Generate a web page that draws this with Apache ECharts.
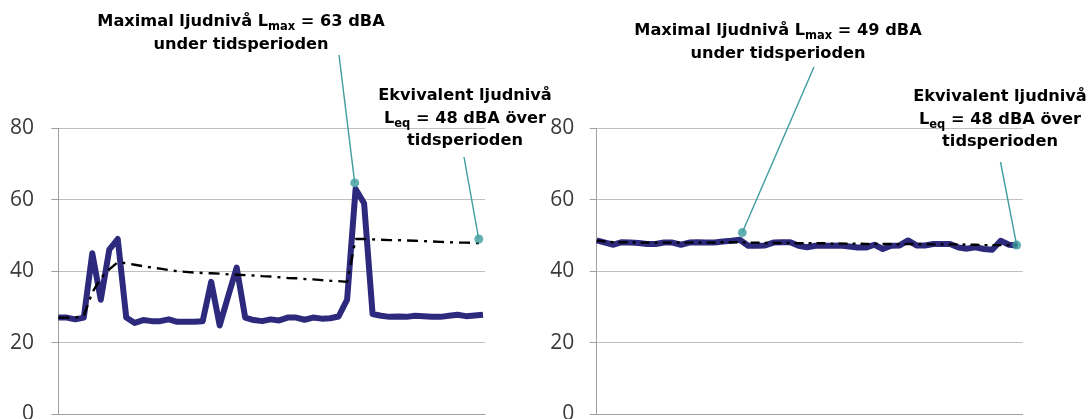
<!DOCTYPE html>
<html>
<head>
<meta charset="utf-8">
<script src="https://cdn.jsdelivr.net/npm/echarts@6/dist/echarts.min.js"></script>
<style>
html,body{margin:0;padding:0;background:#fff;}
#chart{width:1091px;height:419px;}
</style>
</head>
<body>
<div id="chart"></div>
<script>
// Y-axis ticks (dBA)
const yTicks = [0, 20, 40, 60, 80];

// Left panel: measured sound level per sample and running equivalent level
const leftLevel = [27, 27, 26.5, 27, 45, 32, 46, 49, 27, 25.5, 26.3, 26, 26, 26.5, 25.8, 25.8, 25.8, 26, 37, 24.8, 33, 41, 27, 26.3, 26, 26.5, 26.2, 27, 27, 26.4, 27, 26.7, 26.8, 27.3, 32, 63, 59, 28, 27.5, 27.2, 27.3, 27.2, 27.5, 27.4, 27.2, 27.2, 27.5, 27.8, 27.4, 27.6, 27.8];
const leftLeq = [27, 27, 27, 27.5, 34, 38, 40.5, 42.5, 42.2, 41.8, 41.4, 41, 40.7, 40.3, 40, 39.8, 39.6, 39.5, 39.4, 39.3, 39.1, 39, 38.9, 38.8, 38.6, 38.5, 38.3, 38.1, 38, 37.8, 37.7, 37.5, 37.3, 37.2, 37, 49, 49, 48.9, 48.8, 48.7, 48.7, 48.6, 48.5, 48.4, 48.3, 48.2, 48.1, 48, 48, 47.9, 47.8];

// Right panel
const rightLevel = [48.6, 48, 47.4, 48.1, 48, 47.9, 47.6, 47.6, 48, 48, 47.4, 48, 48.1, 48, 48, 48.3, 48.5, 48.8, 47.1, 47.1, 47.2, 48, 48.1, 48.1, 47.1, 46.7, 47.1, 47.1, 47.1, 47.2, 46.9, 46.6, 46.6, 47.4, 46.2, 47.1, 47.2, 48.6, 47.2, 47.2, 47.6, 47.6, 47.6, 46.6, 46.3, 46.7, 46.2, 46, 48.5, 47.4, 47.2];
const rightLeq = [48.6, 48.3, 48.1, 48.1, 48.1, 48, 48, 48, 48, 48, 48, 48, 48, 48, 48, 48.1, 48.1, 48.1, 48, 48, 47.9, 47.9, 47.9, 47.9, 47.8, 47.8, 47.8, 47.8, 47.7, 47.7, 47.7, 47.7, 47.6, 47.6, 47.6, 47.6, 47.5, 47.6, 47.6, 47.5, 47.5, 47.5, 47.5, 47.5, 47.4, 47.4, 47.3, 47.3, 47.3, 47.3, 47.3];

// Annotation anchor points [sample index, dBA]
const leftMaxPoint = [34.9, 64.7];
const leftLeqPoint = [49.5, 49];
const rightMaxPoint = [17.3, 50.8];
const rightLeqPoint = [49.9, 47.3];

// Annotation texts
const leftMaxText = ['Maximal ljudnivå L', 'max', ' = 63 dBA', 'under tidsperioden'];
const rightMaxText = ['Maximal ljudnivå L', 'max', ' = 49 dBA', 'under tidsperioden'];
const leqText = ['Ekvivalent ljudnivå', 'L', 'eq', ' = 48 dBA över', 'tidsperioden'];

const pairs = arr => arr.map((v, i) => [i, v]);

const NAVY = '#2d2a7d';
const TEAL = '#3f9d9f';
const GRID = '#c0c0c0';
const AXIS = '#a0a0a0';
const FONT = '"Open Sans", "DejaVu Sans", sans-serif';
const BFONT = '"DejaVu Sans", sans-serif';

function yAxis(gi, margin) {
  return {
    type: 'value', gridIndex: gi, min: 0, max: 80, interval: 20,
    axisLine: {show: true, lineStyle: {color: AXIS, width: 1}},
    axisTick: {show: true, length: 7, lineStyle: {color: AXIS}},
    splitLine: {show: true, lineStyle: {color: GRID, width: 1}},
    axisLabel: {color: '#3a3a3a', fontSize: 21, fontFamily: FONT, margin: margin,
      formatter: v => yTicks.includes(v) ? String(v) : ''}
  };
}
function xAxis(gi, min, max) {
  return {
    type: 'value', gridIndex: gi, min: min, max: max,
    axisLine: {show: true, onZero: false, lineStyle: {color: AXIS, width: 1}},
    axisTick: {show: false}, axisLabel: {show: false}, splitLine: {show: false}
  };
}

const chart = echarts.init(document.getElementById('chart'), null, {renderer: 'canvas'});

const rich = {
  b: {fontSize: 16.2, fontWeight: 'bold', fontFamily: BFONT, color: '#1a1a1a', lineHeight: 22.5},
  s: {fontSize: 11.5, fontWeight: 'bold', fontFamily: BFONT, color: '#1a1a1a', lineHeight: 22.5, padding: [10, 0, 0, 0]}
};

chart.setOption({
  animation: false,
  backgroundColor: '#ffffff',
  grid: [
    {left: 55, top: 128.3, width: 430, height: 285.7, containLabel: false, outerBoundsMode: 'none'},
    {left: 593.3, top: 128.3, width: 429.4, height: 285.7, containLabel: false, outerBoundsMode: 'none'}
  ],
  xAxis: [xAxis(0, -0.389, 50.235), xAxis(1, -0.404, 50.62)],
  yAxis: [yAxis(0, 21), yAxis(1, 19)],
  series: [
    {type: 'line', xAxisIndex: 0, yAxisIndex: 0, data: pairs(leftLevel), symbol: 'none',
      lineStyle: {color: NAVY, width: 6, join: 'round'}, z: 2},
    {type: 'line', xAxisIndex: 0, yAxisIndex: 0, data: pairs(leftLeq), symbol: 'none',
      lineStyle: {color: '#000', width: 2.4, type: [11, 6, 3, 6]}, z: 3},
    {type: 'line', xAxisIndex: 1, yAxisIndex: 1, data: pairs(rightLevel), symbol: 'none',
      lineStyle: {color: NAVY, width: 6, join: 'round'}, z: 2},
    {type: 'line', xAxisIndex: 1, yAxisIndex: 1, data: pairs(rightLeq), symbol: 'none',
      lineStyle: {color: '#000', width: 2.4, type: [9, 5, 3, 5]}, z: 3},
    {type: 'scatter', xAxisIndex: 0, yAxisIndex: 0, data: [leftMaxPoint, leftLeqPoint],
      symbolSize: 9, itemStyle: {color: TEAL}, z: 5},
    {type: 'scatter', xAxisIndex: 1, yAxisIndex: 1, data: [rightMaxPoint, rightLeqPoint],
      symbolSize: 9, itemStyle: {color: TEAL}, z: 5}
  ]
});

function px(gi, p) {
  return chart.convertToPixel({gridIndex: gi}, p);
}
const lm = px(0, leftMaxPoint), lq = px(0, leftLeqPoint);
const rm = px(1, rightMaxPoint), rq = px(1, rightLeqPoint);

function leader(from, to) {
  return {type: 'line', shape: {x1: from[0], y1: from[1], x2: to[0], y2: to[1]},
    style: {stroke: TEAL, lineWidth: 1.4}, z: 1};
}
function maxLabel(cx, y, t) {
  return {type: 'text', x: cx, y: y, z: 10,
    style: {text: '{b|' + t[0] + '}{s|' + t[1] + '}{b|' + t[2] + '}\n{b|' + t[3] + '}',
      rich: rich, align: 'center', verticalAlign: 'top'}};
}
function leqLabel(cx, y) {
  return {type: 'text', x: cx, y: y, z: 10,
    style: {text: '{b|' + leqText[0] + '}\n{b|' + leqText[1] + '}{s|' + leqText[2] + '}{b|' + leqText[3] + '}\n{b|' + leqText[4] + '}',
      rich: rich, align: 'center', verticalAlign: 'top'}};
}

chart.setOption({
  graphic: [
    leader([339, 55], lm), leader([464, 157], lq),
    leader([814, 67], rm), leader([1000.5, 162], rq),
    maxLabel(241, 11, leftMaxText),
    maxLabel(778, 20, rightMaxText),
    leqLabel(465, 85),
    leqLabel(1000, 86)
  ]
});
</script>
</body>
</html>
